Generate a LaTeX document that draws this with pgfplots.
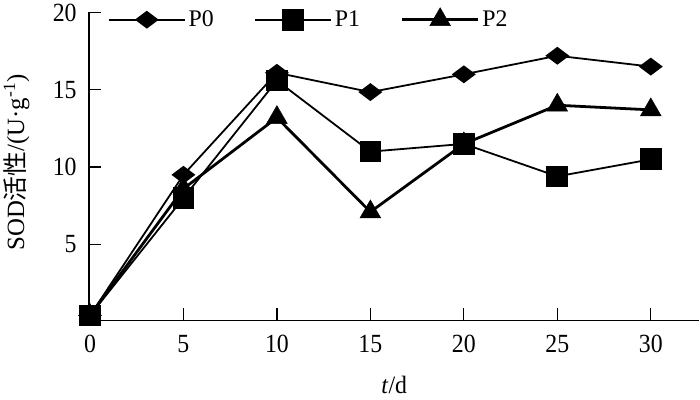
\documentclass[border=0pt]{standalone}
\usepackage{fontspec}
\setmainfont{Liberation Serif}
\newfontfamily\cjk{Noto Sans CJK SC}
\usepackage{pgfplots}
\pgfplotsset{compat=1.18}
\begin{document}
\begin{tikzpicture}
\begin{axis}[
  scale only axis,
  width=613bp, height=309bp,
  xmin=-0.05, xmax=32.6,
  ymin=0.1, ymax=20,
  axis lines=left,
  axis line style={line width=1.2bp, -},
  xtick={0,5,10,15,20,25,30},
  ytick={5,10,15,20},
  tick align=inside,
  major tick length=12bp,
  tick style={line width=1.2bp, black},
  /pgf/number format/assume math mode=true,
  font=\fontsize{24}{28}\selectfont,
  yticklabel style={xshift=-9bp, yscale=1.1},
  xticklabel style={yshift=-11bp, yscale=1.1},
  xlabel={\textit{t}/d},
  xlabel style={at={(axis description cs:0.5,-0.259)}, anchor=south, inner xsep=0pt, inner ysep=6bp, yscale=1.05},
  ylabel={SOD{\cjk 活性}/(U·g\textsuperscript{-1})},
  ylabel style={at={(axis description cs:-0.119,0.512)}, anchor=center, font=\fontsize{25}{29}\selectfont},
  legend columns=3,
  legend style={at={(axis description cs:0.026,0.977)}, anchor=west, draw=none, fill=none,
    font=\fontsize{24}{28}\selectfont,
    /tikz/every even column/.append style={column sep=38bp},
    nodes={inner sep=3bp}},
  legend image code/.code={\draw[mark repeat=2,mark phase=2,#1] plot coordinates {(0bp,0bp) (38bp,0bp) (76bp,0bp)};},
  clip=false,
]
\addplot[black, line width=1.8bp, mark=diamond*, mark size=10.5bp, mark options={rotate=90, solid}]
  coordinates {(0,0.4) (5,9.5) (10,16.1) (15,14.85) (20,16.0) (25,17.2) (30,16.5)};
\addlegendentry{P0}
\addplot[black, line width=1.8bp, mark=square*, mark size=10bp, mark options={solid}]
  coordinates {(0,0.4) (5,8.0) (10,15.6) (15,11.0) (20,11.5) (25,9.4) (30,10.5)};
\addlegendentry{P1}
\addplot[black, line width=2.8bp, mark=triangle*, mark size=12bp, mark options={solid, line width=0.5bp}]
  coordinates {(0,0.4) (5,8.6) (10,13.2) (15,7.1) (20,11.5) (25,14.0) (30,13.7)};
\addlegendentry{P2}
\end{axis}
\end{tikzpicture}
\end{document}
